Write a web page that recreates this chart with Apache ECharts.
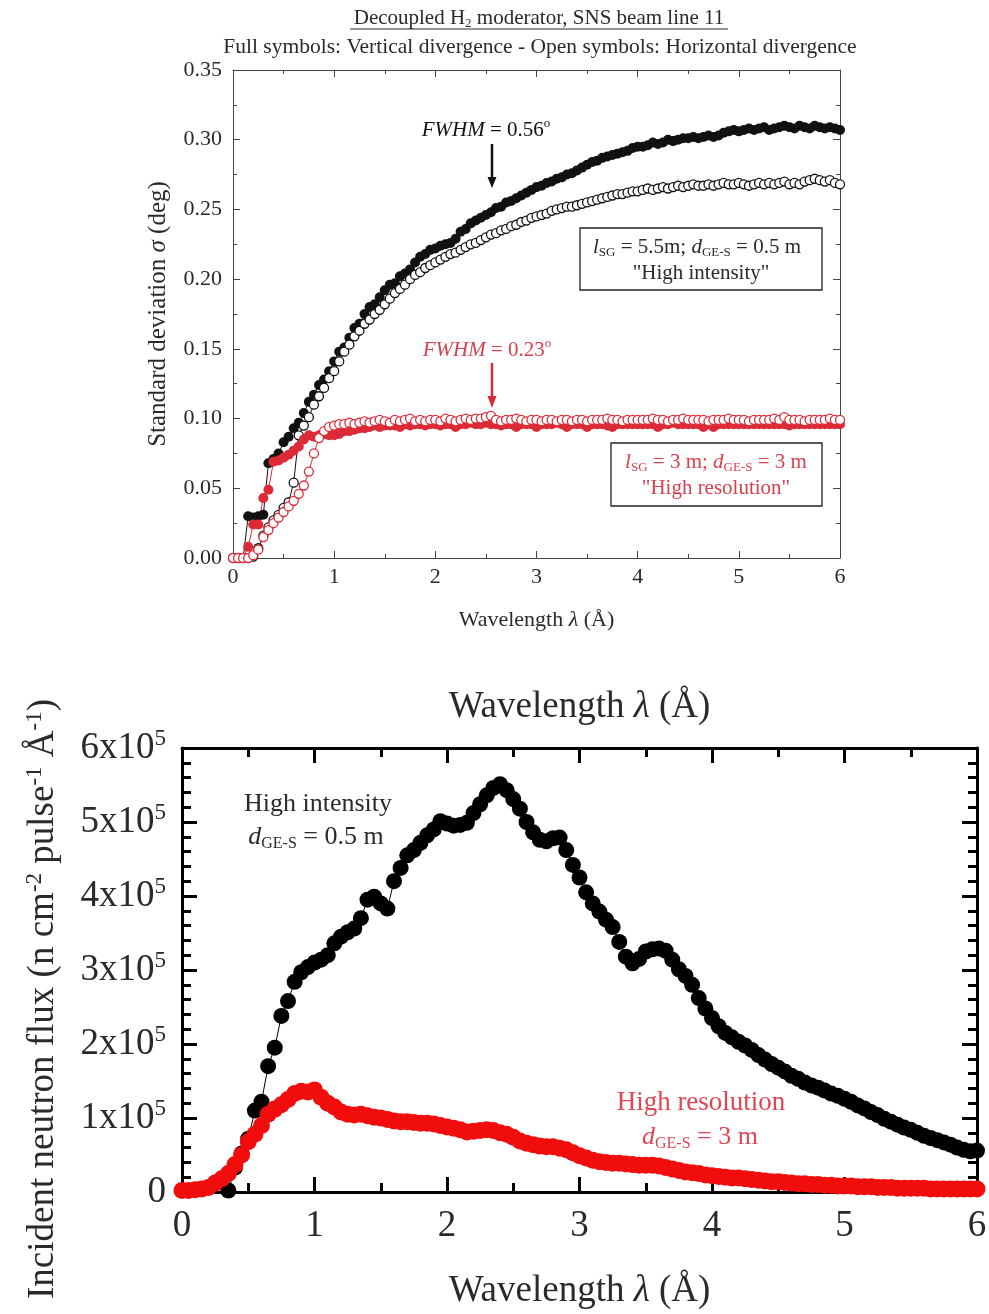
<!DOCTYPE html>
<html><head><meta charset="utf-8">
<script src="https://cdn.jsdelivr.net/npm/echarts@6/dist/echarts.min.js"></script>
<style>html,body{margin:0;padding:0;background:#fff}#chart{width:989px;height:1314px}</style>
</head><body><div id="chart"></div>
<script>
// ---------- DATA ----------
const wavelength = [
 0.00,0.05,0.10,0.15,0.20,0.25,0.30,0.35,0.40,0.45,
 0.50,0.55,0.60,0.65,0.70,0.75,0.80,0.85,0.90,0.95,
 1.00,1.05,1.10,1.15,1.20,1.25,1.30,1.35,1.40,1.45,
 1.50,1.55,1.60,1.65,1.70,1.75,1.80,1.85,1.90,1.95,
 2.00,2.05,2.10,2.15,2.20,2.25,2.30,2.35,2.40,2.45,
 2.50,2.55,2.60,2.65,2.70,2.75,2.80,2.85,2.90,2.95,
 3.00,3.05,3.10,3.15,3.20,3.25,3.30,3.35,3.40,3.45,
 3.50,3.55,3.60,3.65,3.70,3.75,3.80,3.85,3.90,3.95,
 4.00,4.05,4.10,4.15,4.20,4.25,4.30,4.35,4.40,4.45,
 4.50,4.55,4.60,4.65,4.70,4.75,4.80,4.85,4.90,4.95,
 5.00,5.05,5.10,5.15,5.20,5.25,5.30,5.35,5.40,5.45,
 5.50,5.55,5.60,5.65,5.70,5.75,5.80,5.85,5.90,5.95,
 6.00];

// Top panel: standard deviation sigma (deg)
const sigmaVertHighInt = [ // full black
 0.000,0.000,0.000,0.030,0.029,0.030,0.031,0.068,0.071,0.075,
 0.083,0.087,0.093,0.097,0.104,0.112,0.117,0.124,0.128,0.134,
 0.141,0.148,0.151,0.158,0.165,0.168,0.175,0.180,0.182,0.187,
 0.192,0.196,0.197,0.202,0.204,0.207,0.212,0.216,0.218,0.221,
 0.222,0.224,0.225,0.226,0.229,0.234,0.236,0.240,0.242,0.244,
 0.246,0.248,0.251,0.252,0.255,0.256,0.258,0.260,0.262,0.264,
 0.266,0.267,0.269,0.270,0.272,0.273,0.275,0.276,0.278,0.280,
 0.282,0.284,0.285,0.287,0.288,0.289,0.290,0.291,0.292,0.294,
 0.295,0.295,0.296,0.298,0.297,0.298,0.300,0.299,0.300,0.301,
 0.301,0.302,0.301,0.302,0.303,0.302,0.303,0.305,0.306,0.307,
 0.306,0.307,0.308,0.307,0.308,0.309,0.307,0.308,0.309,0.310,
 0.309,0.308,0.310,0.309,0.308,0.310,0.309,0.308,0.309,0.308,
 0.307];
const sigmaHorHighInt = [ // open black
 null,null,null,null,0.001,0.007,0.016,0.022,0.027,0.031,
 0.036,0.040,0.054,0.088,0.095,0.101,0.110,0.116,0.122,0.129,
 0.134,0.141,0.148,0.153,0.159,0.163,0.168,0.171,0.175,0.178,
 0.182,0.186,0.190,0.193,0.196,0.200,0.203,0.205,0.208,0.210,
 0.212,0.214,0.216,0.218,0.219,0.221,0.223,0.225,0.226,0.228,
 0.230,0.232,0.233,0.235,0.236,0.238,0.239,0.241,0.242,0.244,
 0.245,0.246,0.247,0.249,0.250,0.251,0.252,0.252,0.253,0.254,
 0.255,0.256,0.257,0.258,0.259,0.260,0.261,0.261,0.262,0.263,
 0.263,0.264,0.265,0.264,0.265,0.266,0.265,0.266,0.267,0.266,
 0.267,0.268,0.267,0.267,0.268,0.267,0.268,0.269,0.268,0.268,
 0.269,0.268,0.267,0.268,0.269,0.268,0.269,0.268,0.269,0.270,
 0.268,0.269,0.268,0.270,0.271,0.272,0.271,0.270,0.271,0.269,
 0.268];
const sigmaVertHighRes = [ // full red
 0.000,0.000,0.000,0.008,0.024,0.024,0.043,0.049,0.069,0.070,
 0.072,0.074,0.077,0.080,0.085,0.088,0.087,0.088,0.089,0.088,
 0.088,0.089,0.091,0.091,0.092,0.093,0.093,0.094,0.095,0.094,
 0.095,0.095,0.095,0.094,0.096,0.095,0.096,0.096,0.095,0.096,
 0.096,0.095,0.096,0.096,0.094,0.096,0.096,0.097,0.096,0.096,
 0.097,0.096,0.096,0.095,0.096,0.096,0.094,0.096,0.096,0.096,
 0.094,0.096,0.096,0.096,0.097,0.096,0.094,0.096,0.096,0.096,
 0.094,0.096,0.096,0.096,0.095,0.094,0.096,0.096,0.096,0.096,
 0.096,0.096,0.096,0.096,0.094,0.096,0.096,0.097,0.096,0.096,
 0.096,0.096,0.096,0.094,0.096,0.094,0.096,0.096,0.096,0.096,
 0.096,0.096,0.096,0.096,0.096,0.096,0.096,0.096,0.096,0.096,
 0.095,0.096,0.096,0.096,0.096,0.096,0.096,0.096,0.096,0.096,
 0.096];
const sigmaHorHighRes = [ // open red
 0.000,0.000,0.000,0.000,0.002,0.006,0.015,0.020,0.025,0.029,
 0.033,0.037,0.041,0.046,0.052,0.062,0.075,0.086,0.091,0.094,
 0.095,0.096,0.096,0.097,0.096,0.097,0.098,0.097,0.098,0.099,
 0.098,0.097,0.099,0.098,0.099,0.100,0.098,0.099,0.098,0.099,
 0.099,0.098,0.100,0.099,0.098,0.099,0.100,0.099,0.100,0.100,
 0.101,0.102,0.099,0.098,0.099,0.099,0.100,0.099,0.098,0.099,
 0.099,0.098,0.099,0.099,0.098,0.099,0.099,0.098,0.099,0.099,
 0.098,0.099,0.099,0.099,0.100,0.099,0.099,0.098,0.099,0.099,
 0.099,0.099,0.099,0.100,0.099,0.099,0.098,0.099,0.099,0.100,
 0.099,0.099,0.099,0.099,0.098,0.099,0.099,0.099,0.100,0.099,
 0.099,0.099,0.098,0.099,0.099,0.099,0.099,0.100,0.099,0.101,
 0.099,0.099,0.099,0.098,0.099,0.099,0.099,0.099,0.100,0.099,
 0.099];

// Bottom panel: incident neutron flux (n cm^-2 pulse^-1 A^-1)
const fluxHighInt = [
 null,null,null,null,null,null,null,2000,33000,52000,
 72000,110000,122000,170000,195000,238000,258000,284000,297000,304000,
 310000,314000,320000,336000,345000,351000,356000,370000,395000,399000,
 390000,383000,420000,438000,455000,462000,472000,482000,490000,501000,
 498000,495000,496000,499000,512000,524000,536000,546000,551000,543000,
 531000,518000,500000,486000,476000,474000,478000,479000,462000,442000,
 425000,405000,390000,379000,368000,358000,338000,318000,309000,315000,
 325000,328000,329000,326000,314000,301000,292000,280000,262000,248000,
 235000,224000,215000,209000,203000,198000,192000,185000,179000,173000,
 168000,163000,157000,153000,148000,144000,141000,137000,133000,130000,
 126000,122000,117000,113000,108000,104000,99000,95000,91000,87000,
 84000,80000,76000,73000,70000,67000,64000,60000,57000,55000,
 56000];
const fluxHighRes = [
 2000,2000,3000,4000,6000,12000,18000,25000,37000,50000,
 68000,78000,90000,105000,112000,118000,125000,133000,136000,135000,
 138000,128000,120000,115000,108000,105000,104000,105000,103000,101000,
 100000,98000,96000,95000,95000,94000,93000,93000,92000,90000,
 88000,86000,84000,81000,82000,83000,84000,83000,80000,78000,
 74000,69000,66000,64000,62000,61000,61000,59000,57000,53000,
 49000,46000,43000,41000,40000,39000,39000,38000,37000,36000,
 36000,36000,35000,33000,31000,29000,27000,26000,25000,23000,
 22000,21000,20000,19000,19000,18000,17000,16000,15000,14000,
 14000,13000,12000,11000,11000,10000,10000,9000,9000,8000,
 8000,8000,7000,7000,7000,6000,6000,6000,5000,5000,
 5000,5000,5000,4000,4000,4000,4000,4000,4000,4000,
 4000];

const sigmaTicks = [0.00,0.05,0.10,0.15,0.20,0.25,0.30,0.35];
const fluxTickLabels = ['0','1x10^5','2x10^5','3x10^5','4x10^5','5x10^5','6x10^5'];
const wlTickLabels = ['0','1','2','3','4','5','6'];

// ---------- CHART ----------
const FONT = 'Liberation Serif';
const pairs = (ys) => wavelength.map((x, i) => [x, ys[i]]);

const TOPC = '#444', TXT = '#2a2a2a';
const RED_T = '#dc2a36', RED_TXT = '#d8404c';
const RED_B = '#f20d0d', RED_BTXT = '#e04652';
const TF = 22;   // top panel font
const BF = 37;   // bottom panel font

function richSet(color, size) {
  return {
    n: {fontFamily: FONT, fontSize: size, color: color, fill: color, lineHeight: size + 4},
    i: {fontFamily: FONT, fontSize: size, fontStyle: 'italic', color: color, fill: color, lineHeight: size + 4},
    sub: {fontFamily: FONT, fontSize: Math.round(size * 0.62), color: color, fill: color, verticalAlign: 'bottom', lineHeight: Math.round(size * 0.6)},
    sup: {fontFamily: FONT, fontSize: Math.round(size * 0.62), color: color, fill: color, verticalAlign: 'top', lineHeight: Math.round(size * 0.62)}
  };
}

function topX(pos, withLabel) {
  return {
    gridIndex: 0, type: 'value', min: 0, max: 6, interval: 1, position: pos,
    axisLine: {show: true, onZero: false, lineStyle: {color: TOPC, width: 1}},
    axisTick: {show: true, inside: true, length: 7, lineStyle: {color: TOPC, width: 1}},
    minorTick: {show: true, splitNumber: 2, length: 4, lineStyle: {color: TOPC, width: 1}},
    axisLabel: {show: withLabel, fontFamily: FONT, fontSize: TF, color: TXT, margin: 8,
      formatter: (v) => wlTickLabels[Math.round(v)]},
    splitLine: {show: false}, minorSplitLine: {show: false},
    name: withLabel ? '{n|Wavelength }{i|λ}{n| (Å)}' : '',
    nameLocation: 'middle', nameGap: 49,
    nameTextStyle: {rich: richSet(TXT, TF)}
  };
}
function topY(pos, withLabel) {
  return {
    gridIndex: 0, type: 'value', min: 0, max: 0.35, interval: 0.05, position: pos,
    axisLine: {show: true, onZero: false, lineStyle: {color: TOPC, width: 1}},
    axisTick: {show: true, inside: true, length: 7, lineStyle: {color: TOPC, width: 1}},
    minorTick: {show: true, splitNumber: 2, length: 4, lineStyle: {color: TOPC, width: 1}},
    axisLabel: {show: withLabel, fontFamily: FONT, fontSize: TF, color: TXT, margin: 11,
      formatter: (v) => sigmaTicks[Math.round(v / 0.05)].toFixed(2)},
    splitLine: {show: false}, minorSplitLine: {show: false},
    name: withLabel ? '{n|Standard deviation }{i|σ}{n| (deg)}' : '',
    nameLocation: 'middle', nameGap: 60, nameRotate: 90,
    nameTextStyle: {rich: richSet(TXT, 25)}
  };
}
function botX(pos, withLabel, name, gap) {
  return {
    gridIndex: 1, type: 'value', min: 0, max: 6, interval: 1, position: pos,
    axisLine: {show: true, onZero: false, lineStyle: {color: '#000', width: 3}},
    axisTick: {show: true, inside: true, length: 15, lineStyle: {color: '#000', width: 3}},
    minorTick: {show: true, splitNumber: 2, length: 9, lineStyle: {color: '#000', width: 3}},
    axisLabel: {show: withLabel, fontFamily: FONT, fontSize: BF, color: TXT, margin: 16,
      formatter: (v) => wlTickLabels[Math.round(v)]},
    splitLine: {show: false}, minorSplitLine: {show: false},
    name: name ? '{n|Wavelength }{i|λ}{n| (Å)}' : '',
    nameLocation: 'middle', nameGap: gap,
    nameTextStyle: {rich: richSet(TXT, BF)}
  };
}
function botY(pos, withLabel) {
  const r = richSet(TXT, BF);
  r.sup.fontSize = 23; r.sup.lineHeight = 23;
  return {
    gridIndex: 1, type: 'value', min: 0, max: 600000, interval: 100000, position: pos,
    axisLine: {show: true, onZero: false, lineStyle: {color: '#000', width: 3}},
    axisTick: {show: true, inside: true, length: 15, lineStyle: {color: '#000', width: 3}},
    minorTick: {show: true, splitNumber: 5, length: 9, lineStyle: {color: '#000', width: 3}},
    axisLabel: {show: withLabel, margin: 16, rich: r,
      formatter: (v) => {
        const t = fluxTickLabels[Math.round(v / 100000)];
        const p = t.split('^');
        return p.length > 1 ? '{n|' + p[0] + '}{sup|' + p[1] + '}' : '{n|' + t + '}';
      }},
    splitLine: {show: false}, minorSplitLine: {show: false},
    name: withLabel ? '{n|Incident neutron flux (n cm}{sup|-2}{n| pulse}{sup|-1}{n| Å}{sup|-1}{n|)}' : '',
    nameLocation: 'middle', nameGap: 118, nameRotate: 90,
    nameTextStyle: {rich: r, padding: [0, 58, 0, 0]}
  };
}

function lineSeries(xi, yi, data, size, fill, stroke, bw) {
  return {
    type: 'line', xAxisIndex: xi, yAxisIndex: yi, data: data,
    symbol: 'circle', symbolSize: size, showSymbol: true, showAllSymbol: true,
    connectNulls: false, animation: false, silent: true,
    itemStyle: {color: fill, borderColor: stroke, borderWidth: bw},
    lineStyle: {color: stroke, width: 1}
  };
}

const option = {
  backgroundColor: '#fff',
  animation: false,
  grid: [
    {left: 233, top: 70, width: 607, height: 488, containLabel: false, outerBoundsMode: 'none'},
    {left: 182, top: 748, width: 795, height: 444, containLabel: false, outerBoundsMode: 'none'}
  ],
  xAxis: [topX('bottom', true), topX('top', false), botX('bottom', true, true, 79), botX('top', false, true, 20)],
  yAxis: [topY('left', true), topY('right', false), botY('left', true), botY('right', false)],
  series: [
    lineSeries(0, 0, pairs(sigmaVertHighInt), 10, '#111', '#111', 0),
    lineSeries(0, 0, pairs(sigmaHorHighInt), 9, '#fff', '#111', 1.3),
    lineSeries(0, 0, pairs(sigmaVertHighRes), 10, RED_T, RED_T, 0),
    lineSeries(0, 0, pairs(sigmaHorHighRes), 9, '#fff', RED_T, 1.3),
    lineSeries(2, 2, pairs(fluxHighInt), 16, '#000', '#000', 0),
    lineSeries(2, 2, pairs(fluxHighRes), 17, RED_B, RED_B, 0)
  ],
  graphic: [
    // title
    {type: 'text', z: 100, style: {x: 539, y: 18, align: 'center', verticalAlign: 'middle',
      text: '{n|Decoupled H}{sub|2}{n| moderator, SNS beam line 11}', rich: richSet(TXT, 21)}},
    {type: 'line', z: 100, shape: {x1: 350, y1: 29, x2: 728, y2: 29}, style: {stroke: TXT, lineWidth: 1}},
    {type: 'text', z: 100, style: {x: 540, y: 47, align: 'center', verticalAlign: 'middle',
      text: 'Full symbols: Vertical divergence - Open symbols: Horizontal divergence',
      fontFamily: FONT, fontSize: 21.5, fill: TXT}},
    // FWHM black
    {type: 'text', z: 100, style: {x: 486, y: 130, align: 'center', verticalAlign: 'middle',
      text: '{i|FWHM}{n| = 0.56}{sup|o}', rich: richSet('#111', 21)}},
    {type: 'line', z: 100, shape: {x1: 492, y1: 144, x2: 492, y2: 180}, style: {stroke: '#111', lineWidth: 2.5}},
    {type: 'polygon', z: 100, shape: {points: [[487.5, 177], [496.5, 177], [492, 188]]}, style: {fill: '#111'}},
    // FWHM red
    {type: 'text', z: 100, style: {x: 487, y: 350, align: 'center', verticalAlign: 'middle',
      text: '{i|FWHM}{n| = 0.23}{sup|o}', rich: richSet(RED_TXT, 21)}},
    {type: 'line', z: 100, shape: {x1: 492, y1: 363, x2: 492, y2: 398}, style: {stroke: RED_T, lineWidth: 2.5}},
    {type: 'polygon', z: 100, shape: {points: [[487.5, 396], [496.5, 396], [492, 408]]}, style: {fill: RED_T}},
    // box 1
    {type: 'rect', z: 100, shape: {x: 580, y: 228, width: 242, height: 62}, style: {fill: 'rgba(0,0,0,0)', stroke: '#222', lineWidth: 1.3}},
    {type: 'text', z: 100, style: {x: 697, y: 247, align: 'center', verticalAlign: 'middle',
      text: '{i|l}{sub|SG}{n| = 5.5m; }{i|d}{sub|GE-S}{n| = 0.5 m}', rich: richSet(TXT, 21)}},
    {type: 'text', z: 100, style: {x: 701, y: 273, align: 'center', verticalAlign: 'middle',
      text: '"High intensity"', fontFamily: FONT, fontSize: 21, fill: TXT}},
    // box 2
    {type: 'rect', z: 100, shape: {x: 611, y: 443, width: 211, height: 63}, style: {fill: 'rgba(0,0,0,0)', stroke: '#222', lineWidth: 1.3}},
    {type: 'text', z: 100, style: {x: 716, y: 462, align: 'center', verticalAlign: 'middle',
      text: '{i|l}{sub|SG}{n| = 3 m; }{i|d}{sub|GE-S}{n| = 3 m}', rich: richSet(RED_TXT, 21)}},
    {type: 'text', z: 100, style: {x: 716, y: 488, align: 'center', verticalAlign: 'middle',
      text: '"High resolution"', fontFamily: FONT, fontSize: 21, fill: RED_TXT}},
    // bottom annotations
    {type: 'text', z: 100, style: {x: 318, y: 804, align: 'center', verticalAlign: 'middle',
      text: 'High intensity', fontFamily: FONT, fontSize: 26, fill: TXT}},
    {type: 'text', z: 100, style: {x: 316, y: 837, align: 'center', verticalAlign: 'middle',
      text: '{i|d}{sub|GE-S}{n| = 0.5 m}', rich: richSet(TXT, 26)}},
    {type: 'text', z: 100, style: {x: 701, y: 1103, align: 'center', verticalAlign: 'middle',
      text: 'High resolution', fontFamily: FONT, fontSize: 27, fill: RED_BTXT}},
    {type: 'text', z: 100, style: {x: 700, y: 1137, align: 'center', verticalAlign: 'middle',
      text: '{i|d}{sub|GE-S}{n| = 3 m}', rich: richSet(RED_BTXT, 26)}}
  ]
};

const chart = echarts.init(document.getElementById('chart'), null, {renderer: 'canvas'});
chart.setOption(option);
</script></body></html>
